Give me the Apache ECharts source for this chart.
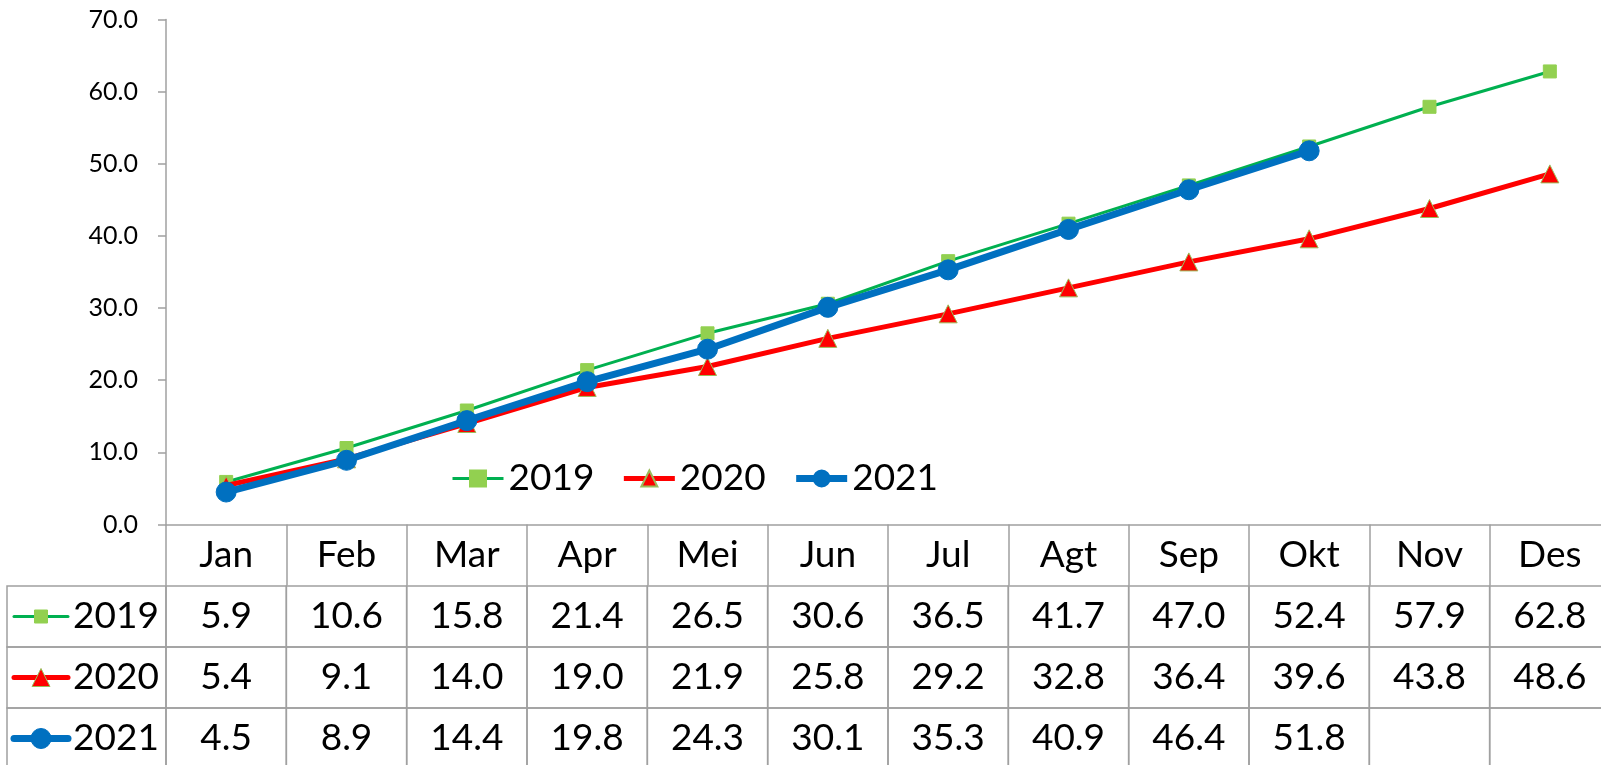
<!DOCTYPE html>
<html>
<head>
<meta charset="utf-8">
<script src="https://cdn.jsdelivr.net/npm/echarts@6/dist/echarts.min.js"></script>
<style>
  html, body { margin: 0; padding: 0; background: #fff; }
  #chart { width: 1601px; height: 765px; }
</style>
</head>
<body>
<div id="chart"></div>
<script>
// data
const months = ['Jan', 'Feb', 'Mar', 'Apr', 'Mei', 'Jun', 'Jul', 'Agt', 'Sep', 'Okt', 'Nov', 'Des'];
const years = ['2019', '2020', '2021'];
const v2019 = [5.9, 10.6, 15.8, 21.4, 26.5, 30.6, 36.5, 41.7, 47.0, 52.4, 57.9, 62.8];
const v2020 = [5.4, 9.1, 14.0, 19.0, 21.9, 25.8, 29.2, 32.8, 36.4, 39.6, 43.8, 48.6];
const v2021 = [4.5, 8.9, 14.4, 19.8, 24.3, 30.1, 35.3, 40.9, 46.4, 51.8, null, null];
const yMin = 0, yMax = 70, yStep = 10;

const values = [v2019, v2020, v2021];

// look of each series
const looks = [
  { line: '#00B050', width: 3, symbol: 'rect', size: 13, fill: '#92D050', border: '#92D050' },
  { line: '#FF0000', width: 5, symbol: 'triangle', size: 18, fill: '#FF0000', border: '#9BBB59' },
  { line: '#0070C0', width: 7, symbol: 'circle', size: 20, fill: '#0070C0', border: '#0070C0' }
];

const FONT = 'Lato';
const GRID_COLOR = '#A0A0A0';
const LABEL_COL = 159;

// table cells: [column, row]
const cells = [];
years.forEach((y, r) => months.forEach((m, c) => cells.push([c, r])));

const cellText = (c, r) => values[r][c] == null ? '' : values[r][c].toFixed(1);

// small legend key drawn in the row label cell
const keyShape = (look, cx, cy) => {
  const s = look.size;
  const style = { fill: look.fill, stroke: look.border, lineWidth: 1 };
  if (look.symbol === 'rect') {
    return { type: 'rect', shape: { x: cx - s / 2, y: cy - s / 2, width: s, height: s }, style };
  }
  if (look.symbol === 'triangle') {
    return { type: 'polygon', shape: { points: [[cx, cy - s / 2], [cx + s / 2, cy + s / 2], [cx - s / 2, cy + s / 2]] }, style };
  }
  return { type: 'circle', shape: { cx, cy, r: s / 2 }, style };
};

const renderCell = (params, api) => {
  const c = api.value(0), r = api.value(1);
  const pt = api.coord([c, r]);
  const size = api.size([1, 1]);
  const x0 = pt[0] - size[0] / 2, y0 = pt[1] - size[1] / 2;
  const children = [
    { type: 'rect', shape: { x: x0, y: y0, width: size[0], height: size[1] },
      style: { fill: 'none', stroke: GRID_COLOR, lineWidth: 1.5 } },
    { type: 'text', style: { text: cellText(c, r), x: pt[0], y: pt[1], align: 'center', verticalAlign: 'middle',
      fontSize: 37, fontFamily: FONT, fill: '#000' } }
  ];
  if (c === 0) {
    const lx = x0 - LABEL_COL;
    const look = looks[r];
    children.push(
      { type: 'rect', shape: { x: lx, y: y0, width: LABEL_COL, height: size[1] },
        style: { fill: 'none', stroke: GRID_COLOR, lineWidth: 1.5 } },
      { type: 'line', shape: { x1: lx + 7, y1: pt[1], x2: lx + 61, y2: pt[1] },
        style: { stroke: look.line, lineWidth: look.width, lineCap: 'round' } },
      keyShape(look, lx + 34, pt[1]),
      { type: 'text', style: { text: years[r], x: lx + 66, y: pt[1], align: 'left', verticalAlign: 'middle',
        fontSize: 37, fontFamily: FONT, fill: '#000' } }
    );
  }
  return { type: 'group', children };
};

const chart = echarts.init(document.getElementById('chart'));

chart.setOption({
  animation: false,
  backgroundColor: '#fff',
  textStyle: { fontFamily: FONT },
  grid: [
    { left: 166, top: 19.5, width: 1444, height: 505, outerBoundsMode: 'none' },
    { left: 166, top: 586, width: 1444, height: 183, outerBoundsMode: 'none' }
  ],
  legend: {
    left: 446,
    top: 455,
    itemWidth: 51,
    itemHeight: 20,
    itemGap: 27,
    textStyle: { fontSize: 37, fontFamily: FONT, color: '#000' },
    lineStyle: { width: 'inherit' },
    data: years
  },
  xAxis: [
    {
      type: 'category', gridIndex: 0, data: months, boundaryGap: true,
      axisLine: { lineStyle: { color: GRID_COLOR, width: 1.5 } },
      axisTick: { show: true, length: 61, lineStyle: { color: GRID_COLOR, width: 1.5 } },
      axisLabel: { fontSize: 37, fontFamily: FONT, color: '#000', margin: 12 }
    },
    {
      type: 'category', gridIndex: 1, data: months, boundaryGap: true, show: false
    }
  ],
  yAxis: [
    {
      type: 'value', gridIndex: 0, min: yMin, max: yMax, interval: yStep,
      axisLine: { show: true, lineStyle: { color: GRID_COLOR, width: 1.5 } },
      axisTick: { show: true, length: 8, lineStyle: { color: GRID_COLOR, width: 1.5 } },
      splitLine: { show: false },
      axisLabel: { fontSize: 25, fontFamily: FONT, color: '#000', margin: 28,
        formatter: v => v.toFixed(1) }
    },
    {
      type: 'category', gridIndex: 1, data: years, inverse: true, show: false
    }
  ],
  series: [
    ...years.map((y, i) => ({
      name: y,
      type: 'line',
      xAxisIndex: 0,
      yAxisIndex: 0,
      data: values[i],
      symbol: looks[i].symbol,
      symbolSize: looks[i].size,
      showAllSymbol: true,
      lineStyle: { color: looks[i].line, width: looks[i].width },
      itemStyle: { color: looks[i].fill, borderColor: looks[i].border, borderWidth: 1 },
      z: 2 + i
    })),
    {
      type: 'custom',
      xAxisIndex: 1,
      yAxisIndex: 1,
      data: cells,
      renderItem: renderCell,
      silent: true
    }
  ]
});
</script>
</body>
</html>
